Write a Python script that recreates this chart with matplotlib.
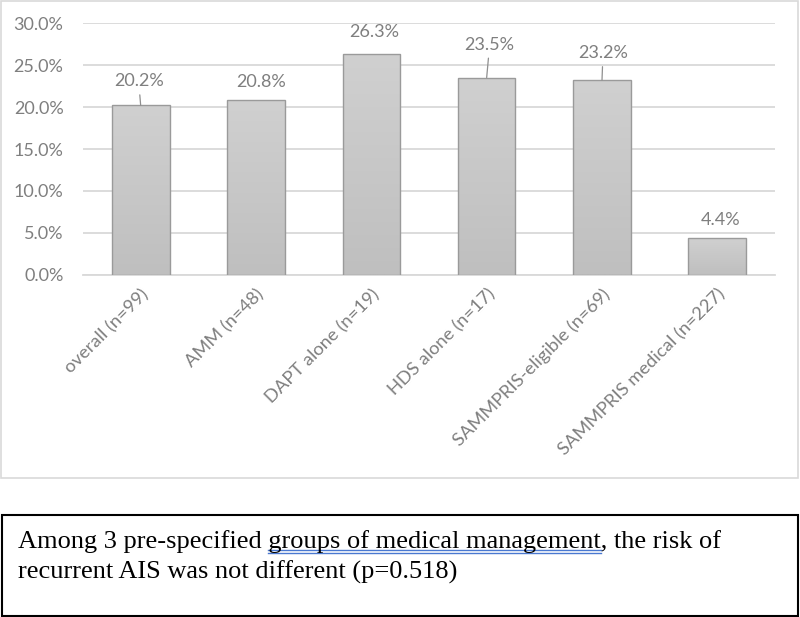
import matplotlib.pyplot as plt
import matplotlib.patches as mpatches
from matplotlib.colors import LinearSegmentedColormap
from matplotlib.lines import Line2D
import numpy as np

# data
groups = ['overall (n=99)', 'AMM (n=48)', 'DAPT alone (n=19)', 'HDS alone (n=17)',
          'SAMMPRIS-eligible (n=69)', 'SAMMPRIS medical (n=227)']
risk = [20.2, 20.8, 26.3, 23.5, 23.2, 4.4]
yticks = [0, 5, 10, 15, 20, 25, 30]

note_line1 = 'Among 3 pre-specified groups of medical management, the risk of'
note_line2 = 'recurrent AIS was not different (p=0.518)'
note_underlined = 'groups of medical management'

# label offsets in pixels (dx, dy) and whether a leader line is drawn
label_offsets = [(-2, 24), (5, 18), (3, 22), (3, 33), (1, 27), (3, 18)]
leaders = [True, False, False, True, True, False]

gray_txt = '#7f7f7f'
sans = ['Lato', 'DejaVu Sans']

fig = plt.figure(figsize=(8, 6.17), dpi=100)
ax = fig.add_axes([83/800, 1-275/617, 692/800, 252/617])

x = np.arange(len(groups))
bars = ax.bar(x, risk, width=0.5, color='#c8c8c8', edgecolor='#9a9a9a', linewidth=1.0, zorder=3)

# soft vertical gradient in each bar, lighter at the top
cm = LinearSegmentedColormap.from_list('g', ['#d0d0d0', '#bfbfbf'])
grad = np.linspace(0, 1, 100).reshape(-1, 1)
for b in bars:
    x0, w, h = b.get_x(), b.get_width(), b.get_height()
    im = ax.imshow(grad, cmap=cm, extent=[x0, x0 + w, 0, h], aspect='auto',
                   zorder=3.5, origin='upper')
    im.set_clip_path(b)
    b.set_facecolor('none')
    b.set_zorder(4)

ax.set_xlim(-0.5, len(groups) - 0.5)
ax.set_ylim(0, 30)
ax.set_yticks(yticks)
ax.set_yticklabels(['%.1f%%' % v for v in yticks], fontsize=13, color=gray_txt, family=sans)
ax.yaxis.grid(True, color='#d9d9d9', linewidth=1.3, zorder=0)
ax.set_axisbelow(True)
ax.tick_params(axis='both', length=0)
ax.tick_params(axis='y', pad=14)
ax.set_xticks(x)
ax.set_xticklabels(groups, rotation=45, ha='right', va='top', rotation_mode='anchor',
                   fontsize=13.2, color=gray_txt, family=sans)
ax.tick_params(axis='x', pad=8)
for s in ['top', 'right', 'left']:
    ax.spines[s].set_visible(False)
ax.spines['bottom'].set_color('#d9d9d9')
ax.spines['bottom'].set_linewidth(1.3)
ax.patch.set_alpha(0)

for i, v in enumerate(risk):
    dx, dy = label_offsets[i]
    ax.annotate('%.1f%%' % v, xy=(x[i], v), xytext=(dx, dy), textcoords='offset pixels',
                ha='center', va='center', fontsize=13, color=gray_txt, family=sans,
                arrowprops=dict(arrowstyle='-', color='#8f8f8f', lw=0.9, shrinkA=2, shrinkB=0)
                if leaders[i] else None, zorder=5)

# chart border
fig.add_artist(mpatches.Rectangle((1/800, 1-478/617), 797/800, 477/617, transform=fig.transFigure,
                                  fill=False, edgecolor='#d9d9d9', linewidth=1.2))
# note box
fig.add_artist(mpatches.Rectangle((1.5/800, 1.5/617), 796.5/800, (616-515)/617, transform=fig.transFigure,
                                  fill=False, edgecolor='black', linewidth=1.5))

serif = 'Liberation Serif'
fs = 19
tx = 18/800
t1 = fig.text(tx, 1-548/617, note_line1, fontsize=fs, family=serif, va='baseline', ha='left')
fig.text(tx, 1-579/617, note_line2, fontsize=fs, family=serif, va='baseline', ha='left')

# blue double underline under the grammar-flagged phrase
fig.canvas.draw()
r = fig.canvas.get_renderer()
def wpx(s):
    t = fig.text(0, 0, s, fontsize=fs, family=serif)
    w = t.get_window_extent(r).width
    t.remove()
    return w
pre = note_line1.split(note_underlined)[0] + note_underlined
x_end = t1.get_window_extent(r).x0 + wpx(pre)
x_start = x_end - wpx(note_underlined)
for yy in [550, 553]:
    fig.add_artist(Line2D([x_start/800, x_end/800], [1-yy/617, 1-yy/617], transform=fig.transFigure,
                          color='#4a78d0', linewidth=1.0))

fig.savefig('out.png', dpi=100)
